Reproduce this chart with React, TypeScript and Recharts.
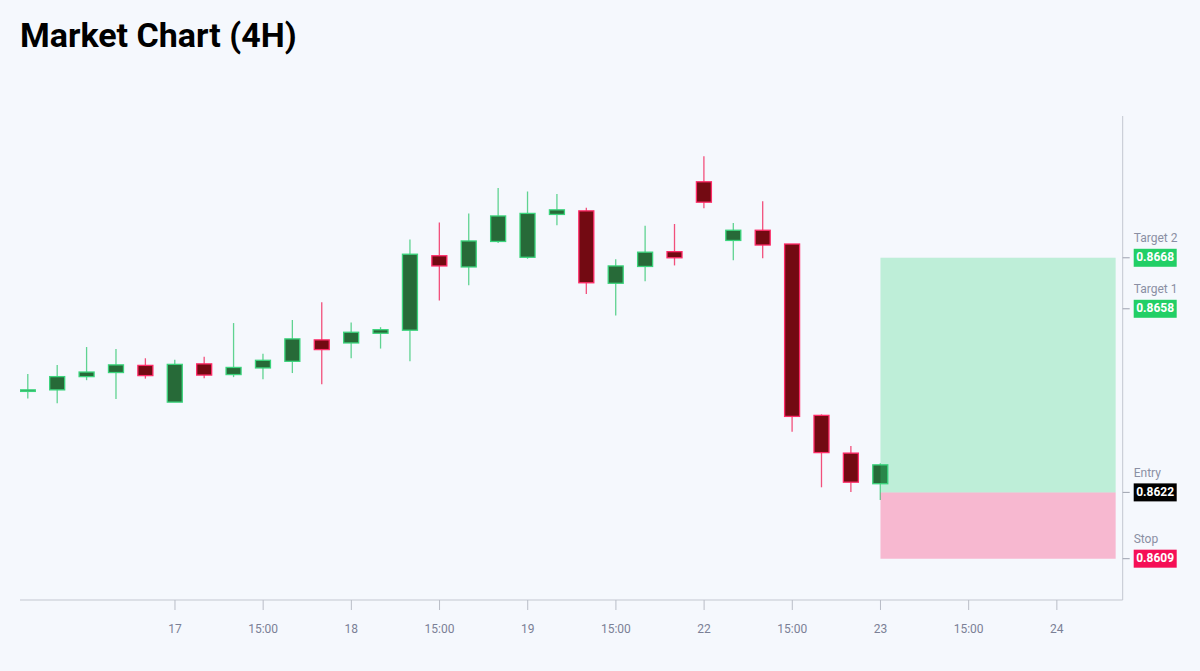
import { ComposedChart, Bar, XAxis, YAxis, ReferenceArea } from "recharts";

// 4H candles, oldest first
const OPEN = [
  0.86418, 0.86421, 0.86447, 0.86455, 0.86469, 0.86397, 0.86472, 0.86451, 0.86464, 0.86477,
  0.86519, 0.86513, 0.86532, 0.86538, 0.86684, 0.86662, 0.86712, 0.86681, 0.86765, 0.86772,
  0.8663, 0.86663, 0.86692, 0.86829, 0.86714, 0.86734, 0.86707, 0.86371, 0.86297, 0.86237,
];
const HIGH = [
  0.86452, 0.8647, 0.86505, 0.86501, 0.86483, 0.8648, 0.86486, 0.86552, 0.86492, 0.86558,
  0.86593, 0.86553, 0.86544, 0.86716, 0.86749, 0.86767, 0.86817, 0.8681, 0.86805, 0.86778,
  0.86677, 0.86743, 0.86746, 0.86879, 0.86748, 0.86791, 0.86707, 0.86373, 0.86311, 0.86277,
];
const LOW = [
  0.86404, 0.86395, 0.8644, 0.86403, 0.86443, 0.86397, 0.86444, 0.86446, 0.86442, 0.86454,
  0.86432, 0.86483, 0.86502, 0.86477, 0.86596, 0.86626, 0.86709, 0.86678, 0.86744, 0.86609,
  0.86567, 0.86634, 0.86665, 0.86777, 0.86675, 0.86679, 0.86339, 0.8623, 0.86221, 0.86205,
];
const CLOSE = [
  0.86421, 0.86447, 0.86456, 0.8647, 0.86449, 0.86471, 0.8645, 0.86465, 0.86479, 0.86521,
  0.865, 0.86534, 0.86539, 0.86687, 0.86664, 0.86713, 0.86762, 0.86767, 0.86774, 0.86631,
  0.86664, 0.86691, 0.8668, 0.86789, 0.86734, 0.86705, 0.86369, 0.86298, 0.8624, 0.86274,
];

const X_TICKS = [5, 8, 11, 14, 17, 20, 23, 26, 29, 32, 35];
const X_TICK_LABELS = ["17", "15:00", "18", "15:00", "19", "15:00", "22", "15:00", "23", "15:00", "24"];

const LEVEL_NAMES = ["Stop", "Entry", "Target 1", "Target 2"];
const LEVEL_VALUES = [0.8609, 0.8622, 0.8658, 0.8668];
const LEVEL_COLORS = ["#f50f56", "#000000", "#22cf66", "#22cf66"];

// trade zone spans from the last candle to the right edge
const ZONE_START = 29;
const ZONE_END = 37;

const data = OPEN.map((open, i) => ({
  i,
  open,
  high: HIGH[i],
  low: LOW[i],
  close: CLOSE[i],
}));

const Candle = (props: any) => {
  const { x, y, width, height, payload } = props;
  const { open, close, high, low } = payload;
  const top = Math.min(y, y + height);
  const h = Math.abs(height);
  const px = (v: number) => top + ((high - v) / (high - low)) * h;
  const up = close >= open;
  const cx = x + width / 2;
  const bodyTop = px(Math.max(open, close));
  const bodyH = Math.max(px(Math.min(open, close)) - bodyTop, 1);
  return (
    <g>
      <line
        x1={cx}
        x2={cx}
        y1={top}
        y2={top + h}
        stroke={up ? "#5fd391" : "#f2507c"}
        strokeWidth={1.3}
      />
      <rect
        x={x}
        y={bodyTop}
        width={width}
        height={bodyH}
        fill={up ? "#276a38" : "#730a12"}
        stroke={up ? "#3bd47c" : "#ff2b68"}
        strokeWidth={1.3}
      />
    </g>
  );
};

const LevelTick = (props: any) => {
  const { x, y, payload } = props;
  const idx = LEVEL_VALUES.indexOf(payload.value);
  if (idx < 0) return null;
  return (
    <g>
      <text x={x} y={y - 19} fontSize={12} fill="#8a8fa3" dominantBaseline="middle">
        {LEVEL_NAMES[idx]}
      </text>
      <rect x={x} y={y - 9} width={43} height={18} fill={LEVEL_COLORS[idx]} />
      <text
        x={x + 21.5}
        y={y + 0.5}
        fontSize={12}
        fontWeight={700}
        fill="#ffffff"
        textAnchor="middle"
        dominantBaseline="middle"
      >
        {payload.value.toFixed(4)}
      </text>
    </g>
  );
};

export default function App() {
  return (
    <div
      style={{
        position: "relative",
        width: 1200,
        height: 671,
        background: "#f5f8fd",
        fontFamily: "Roboto, sans-serif",
      }}
    >
      <style>{`body{margin:0;background:#f5f8fd}`}</style>
      <div
        style={{
          position: "absolute",
          left: 20,
          top: 15,
          fontSize: 34,
          fontWeight: 700,
          color: "#000",
          lineHeight: "40px",
        }}
      >
        Market Chart (4H)
      </div>
      <ComposedChart
        width={1200}
        height={671}
        data={data}
        margin={{ top: 116, right: 0, bottom: 0, left: 20 }}
      >
        <XAxis
          dataKey="i"
          type="number"
          domain={[-0.272, 37.24]}
          ticks={X_TICKS}
          tickFormatter={(v: number) => X_TICK_LABELS[X_TICKS.indexOf(v)] ?? ""}
          height={71}
          allowDataOverflow
          stroke="#c3c7d0"
          tickSize={10}
          tickMargin={14}
          tick={{ fill: "#7b8096", fontSize: 12 }}
          tickLine={{ stroke: "#b9bdc7" }}
        />
        <YAxis
          orientation="right"
          type="number"
          domain={[0.86009, 0.86958]}
          ticks={LEVEL_VALUES}
          allowDataOverflow
          width={77.3}
          stroke="#c3c7d0"
          tickSize={7}
          tickMargin={4}
          tickLine={{ stroke: "#9ca1ae" }}
          tick={<LevelTick />}
          interval={0}
        />
        <Bar
          dataKey={(d: any) => [d.low, d.high]}
          barSize={15}
          shape={<Candle />}
          isAnimationActive={false}
        />
        <ReferenceArea
          x1={ZONE_START}
          x2={ZONE_END}
          y1={LEVEL_VALUES[1]}
          y2={LEVEL_VALUES[3]}
          fill="#2ed37a"
          fillOpacity={0.28}
          stroke="none"
          zIndex={700}
        />
        <ReferenceArea
          x1={ZONE_START}
          x2={ZONE_END}
          y1={LEVEL_VALUES[0]}
          y2={LEVEL_VALUES[1]}
          fill="#ff0a57"
          fillOpacity={0.27}
          stroke="none"
          zIndex={700}
        />
      </ComposedChart>
    </div>
  );
}
